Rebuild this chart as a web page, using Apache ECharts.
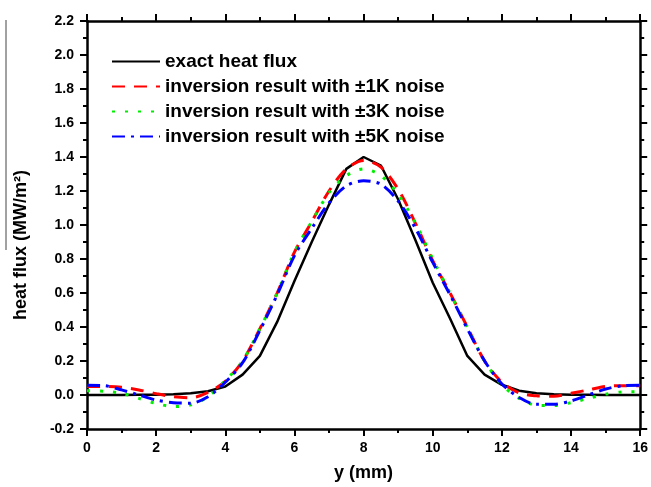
<!DOCTYPE html>
<html>
<head>
<meta charset="utf-8">
<script src="https://cdn.jsdelivr.net/npm/echarts@6/dist/echarts.min.js"></script>
<style>
  html, body { margin: 0; padding: 0; background: #fff; }
  #chart { width: 651px; height: 487px; }
</style>
</head>
<body>
<div id="chart"></div>
<script>
// y position (mm)
var yPos = [0, 0.5, 1, 1.5, 2, 2.5, 3, 3.5, 4, 4.5, 5, 5.5, 6, 6.5, 7, 7.5, 8,
            8.5, 9, 9.5, 10, 10.5, 11, 11.5, 12, 12.5, 13, 13.5, 14, 14.5, 15, 15.5, 16];

// heat flux values (MW/m2)
var exactFlux = [0, 0, 0, 0.001, 0.002, 0.004, 0.01, 0.022, 0.05, 0.12, 0.23, 0.43, 0.67, 0.9, 1.12, 1.33, 1.40,
                 1.35, 1.15, 0.91, 0.66, 0.45, 0.23, 0.12, 0.06, 0.025, 0.01, 0.004, 0.002, 0.001, 0, 0, 0];
var noise1K = [0.05, 0.05, 0.045, 0.03, 0.008, -0.01, -0.016, 0.015, 0.08, 0.2, 0.39, 0.6, 0.84, 1.02, 1.2, 1.33, 1.38,
               1.34, 1.21, 1.01, 0.79, 0.6, 0.4, 0.2, 0.075, 0.012, -0.005, -0.008, 0.01, 0.03, 0.05, 0.055, 0.055];
var noise3K = [0.025, 0.022, 0.01, -0.02, -0.05, -0.068, -0.058, -0.01, 0.085, 0.2, 0.39, 0.6, 0.84, 1.02, 1.19, 1.29, 1.33,
               1.29, 1.18, 1.01, 0.8, 0.6, 0.4, 0.2, 0.06, -0.02, -0.06, -0.062, -0.045, -0.02, 0.005, 0.018, 0.02];
var noise5K = [0.058, 0.055, 0.03, 0.0, -0.03, -0.045, -0.048, -0.01, 0.075, 0.19, 0.38, 0.59, 0.82, 0.98, 1.13, 1.23, 1.26,
               1.24, 1.14, 0.98, 0.78, 0.59, 0.39, 0.2, 0.065, -0.015, -0.055, -0.055, -0.035, 0.0, 0.035, 0.055, 0.058];

var names = ['exact heat flux', 'inversion result with \u00b11K noise',
             'inversion result with \u00b13K noise', 'inversion result with \u00b15K noise'];

function pairs(vals) {
    var out = [];
    for (var i = 0; i < yPos.length; i++) {
        out.push([yPos[i], vals[i]]);
    }
    return out;
}

var font = 'Liberation Sans, Arial, sans-serif';

function xAx(pos, showLabel) {
    return {
        type: 'value', position: pos, min: 0, max: 16, interval: 2,
        axisLine: { show: true, onZero: false, lineStyle: { color: '#000', width: 2.5 } },
        axisTick: { show: true, length: 7, lineStyle: { color: '#000', width: 2 } },
        minorTick: { show: true, splitNumber: 2, length: 4, lineStyle: { color: '#000', width: 2 } },
        axisLabel: { show: showLabel, fontSize: 14, fontWeight: 'bold', color: '#000', margin: 12, fontFamily: font },
        splitLine: { show: false },
        minorSplitLine: { show: false },
        name: showLabel ? 'y (mm)' : '',
        nameLocation: 'middle',
        nameGap: 35,
        nameTextStyle: { fontSize: 18, fontWeight: 'bold', color: '#000', fontFamily: font }
    };
}

function yAx(pos, showLabel) {
    return {
        type: 'value', position: pos, min: -0.2, max: 2.2, interval: 0.2,
        axisLine: { show: true, onZero: false, lineStyle: { color: '#000', width: 2.5 } },
        axisTick: { show: true, length: 7, lineStyle: { color: '#000', width: 2 } },
        minorTick: { show: true, splitNumber: 2, length: 4, lineStyle: { color: '#000', width: 2 } },
        axisLabel: {
            show: showLabel, fontSize: 14, fontWeight: 'bold', color: '#000', margin: 13, fontFamily: font,
            formatter: function (v) { return v.toFixed(1); }
        },
        splitLine: { show: false },
        minorSplitLine: { show: false }
    };
}

var myChart = echarts.init(document.getElementById('chart'));
myChart.setOption({
    animation: false,
    backgroundColor: '#fff',
    grid: { left: 87, right: 10, top: 21, bottom: 57, containLabel: false },
    xAxis: [xAx('bottom', true), xAx('top', false)],
    yAxis: [yAx('left', true), yAx('right', false)],
    legend: {
        orient: 'vertical',
        left: 106,
        top: 47,
        itemWidth: 48,
        itemHeight: 14,
        itemGap: 6,
        itemStyle: { opacity: 0 },
        textStyle: { fontSize: 19, lineHeight: 19, fontWeight: 'bold', color: '#000', fontFamily: font },
        data: names
    },
    graphic: [
        {
            type: 'line',
            shape: { x1: 6, y1: 20, x2: 6, y2: 250 },
            style: { stroke: '#444', lineWidth: 1 }
        },
        {
            type: 'text',
            x: 21, y: 245,
            rotation: Math.PI / 2,
            style: {
                text: 'heat flux (MW/m\u00b2)',
                font: 'bold 18px ' + font,
                fill: '#000',
                align: 'center',
                verticalAlign: 'middle'
            }
        }
    ],
    series: [
        {
            name: names[0], type: 'line', symbol: 'none', showSymbol: false,
            data: pairs(exactFlux), z: 3,
            lineStyle: { color: '#000', width: 2.5, type: 'solid' },
            itemStyle: { color: '#000' }
        },
        {
            name: names[1], type: 'line', symbol: 'none', showSymbol: false, smooth: 0.3,
            data: pairs(noise1K),
            lineStyle: { color: '#ff0000', width: 3, type: [13, 9] },
            itemStyle: { color: '#ff0000' }
        },
        {
            name: names[2], type: 'line', symbol: 'none', showSymbol: false, smooth: 0.3,
            data: pairs(noise3K),
            lineStyle: { color: '#00ee00', width: 3, type: [3, 10] },
            itemStyle: { color: '#00ee00' }
        },
        {
            name: names[3], type: 'line', symbol: 'none', showSymbol: false, smooth: 0.3,
            data: pairs(noise5K),
            lineStyle: { color: '#0000ff', width: 3, type: [13, 6, 3, 6] },
            itemStyle: { color: '#0000ff' }
        }
    ]
});
</script>
</body>
</html>
